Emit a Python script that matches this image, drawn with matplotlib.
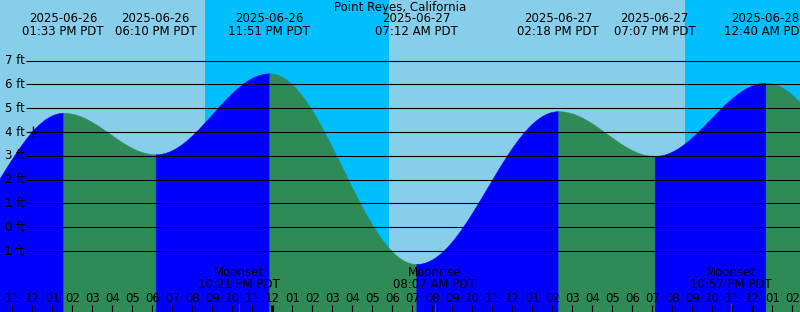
import matplotlib
matplotlib.use('Agg')
import matplotlib.pyplot as plt
import matplotlib.transforms as mtransforms
import numpy as np
from datetime import datetime

# tide extremes (first and last lie outside the visible window)
tide_times = ['2025-06-26 07:15', '2025-06-26 13:33', '2025-06-26 18:10',
              '2025-06-26 23:51', '2025-06-27 07:12', '2025-06-27 14:18',
              '2025-06-27 19:07', '2025-06-28 00:40', '2025-06-28 08:40']
tide_heights = [-0.6, 4.81, 3.07, 6.47, -1.54, 4.88, 3.0, 6.07, -1.5]

# night periods (sunset -> sunrise)
night_start = ['2025-06-26 20:38', '2025-06-27 20:38']
night_end = ['2025-06-27 05:50', '2025-06-28 05:50']

# moon events
moon_names = ['Moonset', 'Moonrise', 'Moonset']
moon_times = ['2025-06-26 22:21', '2025-06-27 08:07', '2025-06-27 22:57']

# current position marker
now_time = '2025-06-26 12:02'
now_height = 4.0

ft_levels = [-1, 0, 1, 2, 3, 4, 5, 6, 7]

t0 = datetime(2025, 6, 26)


def hrs(s):
    d = datetime.strptime(s, '%Y-%m-%d %H:%M')
    return (d - t0).total_seconds() / 3600.0


def fmt_time(s):
    d = datetime.strptime(s, '%Y-%m-%d %H:%M')
    return d.strftime('%Y-%m-%d'), d.strftime('%I:%M %p') + ' PDT'


x0, x1 = 10.385, 50.385
y0, y1 = -3.56, 9.55

fig = plt.figure(figsize=(8, 3.12), dpi=100)
ax = fig.add_axes([0, 0, 1, 1])
ax.set_xlim(x0, x1)
ax.set_ylim(y0, y1)
ax.axis('off')
ax.add_patch(plt.Rectangle((x0, y0), x1 - x0, y1 - y0, color='#87CEEB', zorder=0))

for a, b in zip(night_start, night_end):
    ax.axvspan(hrs(a), hrs(b), color='#00BFFF', lw=0, zorder=1)

# tide curve, cosine between extremes, one fill per half-cycle
th = [hrs(t) for t in tide_times]
for i in range(len(th) - 1):
    xs = np.linspace(th[i], th[i + 1], 300)
    s = (xs - th[i]) / (th[i + 1] - th[i])
    ys = tide_heights[i] + (tide_heights[i + 1] - tide_heights[i]) * (1 - np.cos(np.pi * s)) / 2
    col = '#0000FF' if tide_heights[i + 1] > tide_heights[i] else '#2E8B57'
    ax.fill_between(xs, y0, ys, color=col, lw=0.3, edgecolor=col, zorder=2)

# horizontal ft lines and labels
ax.hlines(ft_levels, x0 + 26 / 20, x1, color='black', lw=0.8, zorder=3)
for f in ft_levels:
    ax.text(x0 + 24.5 / 20, f, '%d ft' % f, ha='right', va='center',
            fontsize=8.5, zorder=4)

ax.plot(hrs(now_time), now_height, marker='+', color='black', ms=8, mew=1, zorder=5)

trans = mtransforms.blended_transform_factory(ax.transData, ax.transAxes)

fig.text(0.5, 1 - 7.5 / 312, 'Point Reyes, California', ha='center', va='center', fontsize=8.5)

# tide labels at top
for t in tide_times:
    h = hrs(t)
    if x0 < h < x1:
        d, tm = fmt_time(t)
        ax.text(h, 1 - 19 / 312, d, transform=trans, ha='center', va='center', fontsize=8.5, zorder=6)
        ax.text(h, 1 - 31.5 / 312, tm, transform=trans, ha='center', va='center', fontsize=8.5, zorder=6)

# moon labels and red ticks
for name, t in zip(moon_names, moon_times):
    h = hrs(t)
    d, tm = fmt_time(t)
    ax.text(h, 1 - 273 / 312, name, transform=trans, ha='center', va='center', fontsize=8.5, zorder=6)
    ax.text(h, 1 - 285 / 312, tm, transform=trans, ha='center', va='center', fontsize=8.5, zorder=6)
    ax.vlines(h, 0, 9 / 312, transform=trans, color='red', lw=0.8, zorder=6)

# hour ticks and labels
hours = np.arange(11, 51)
for h in hours:
    hh = h % 12
    if hh == 0:
        hh = 12
    lw = 2.2 if h % 24 == 0 else 0.8
    ax.vlines(h, 0, 7 / 312, transform=trans, color='black', lw=lw, zorder=6)
    ax.text(h, 1 - 298 / 312, '%02d' % hh, transform=trans, ha='center', va='center',
            fontsize=8.5, zorder=6)

fig.savefig('out.png', dpi=100)
